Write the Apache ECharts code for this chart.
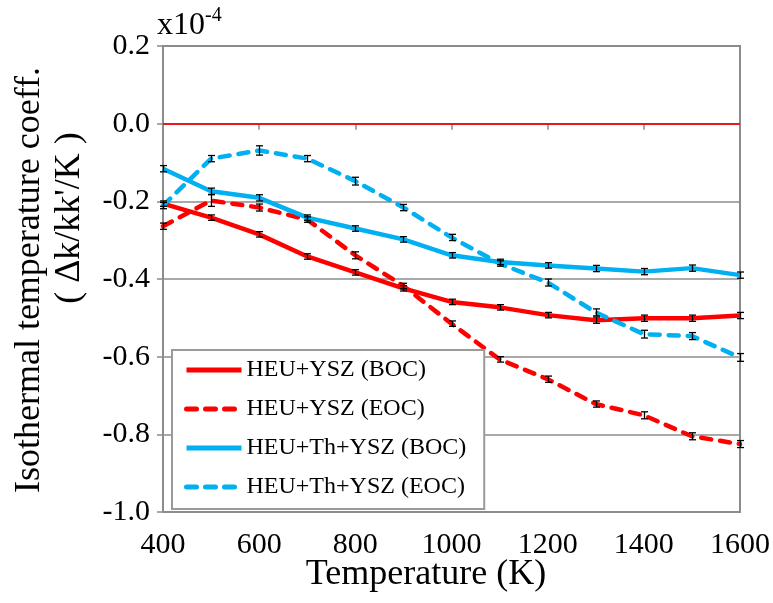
<!DOCTYPE html>
<html><head><meta charset="utf-8">
<script src="https://cdn.jsdelivr.net/npm/echarts@6/dist/echarts.min.js"></script>
<style>html,body{margin:0;padding:0;background:#fff}#c{width:773px;height:603px}</style>
</head><body><div id="c"></div>
<script>
const temps = [400,500,600,700,800,900,1000,1100,1200,1300,1400,1500,1600];
const xTicks = [400,600,800,1000,1200,1400,1600];
const yTicks = [-1.0,-0.8,-0.6,-0.4,-0.2,0.0,0.2];
const seriesNames = ['HEU+YSZ (BOC)','HEU+YSZ (EOC)','HEU+Th+YSZ (BOC)','HEU+Th+YSZ (EOC)'];
const heuYszBoc = [-0.206,-0.242,-0.285,-0.342,-0.383,-0.424,-0.459,-0.473,-0.493,-0.506,-0.501,-0.501,-0.494];
const heuYszEoc = [-0.264,-0.198,-0.216,-0.247,-0.339,-0.418,-0.515,-0.607,-0.658,-0.722,-0.751,-0.805,-0.825];
const heuThBoc  = [-0.116,-0.174,-0.191,-0.242,-0.270,-0.298,-0.339,-0.356,-0.365,-0.373,-0.381,-0.372,-0.390];
const heuThEoc  = [-0.211,-0.090,-0.069,-0.090,-0.148,-0.216,-0.293,-0.360,-0.409,-0.486,-0.542,-0.547,-0.602];
const errYszBoc = [0.007,0.007,0.007,0.007,0.007,0.007,0.007,0.007,0.007,0.008,0.008,0.008,0.008];
const errYszEoc = [0.008,0.015,0.009,0.007,0.009,0.007,0.007,0.007,0.008,0.008,0.009,0.009,0.009];
const errThBoc  = [0.008,0.008,0.008,0.007,0.007,0.007,0.007,0.007,0.007,0.008,0.008,0.008,0.008];
const errThEoc  = [0.008,0.008,0.012,0.008,0.010,0.008,0.008,0.007,0.009,0.009,0.010,0.009,0.010];

const FONT = '"Liberation Serif","Times New Roman",serif';
const RED = '#FF0000', BLUE = '#00B0F0';

function lineSeries(name, vals, color, dashed){
  return {
    name: name, type: 'line', data: temps.map((t,i)=>[t, vals[i]]),
    symbol: 'none', smooth: false, z: 3,
    lineStyle: {color: color, width: 4.5, type: dashed ? [10,9] : 'solid', cap: dashed ? 'round' : 'butt', join: 'round'},
    itemStyle: {color: color}
  };
}
function errSeries(vals, errs){
  return {
    type: 'custom', z: 5, silent: true,
    data: temps.map((t,i)=>[t, vals[i]-errs[i], vals[i]+errs[i]]),
    renderItem: function(params, api){
      const lo = api.coord([api.value(0), api.value(1)]);
      const hi = api.coord([api.value(0), api.value(2)]);
      const x = Math.round(lo[0]) + 0.5, hw = 3.5;
      const st = {stroke: '#000', lineWidth: 1.3};
      return {type: 'group', children: [
        {type: 'line', shape: {x1: x, y1: lo[1], x2: x, y2: hi[1]}, style: st},
        {type: 'line', shape: {x1: x-hw, y1: lo[1], x2: x+hw, y2: lo[1]}, style: st},
        {type: 'line', shape: {x1: x-hw, y1: hi[1], x2: x+hw, y2: hi[1]}, style: st}
      ]};
    }
  };
}

const chart = echarts.init(document.getElementById('c'), null, {renderer: 'canvas'});
const s1 = lineSeries(seriesNames[0], heuYszBoc, RED, false);
s1.markLine = {silent: true, symbol: ['none','none'], label: {show: false},
  lineStyle: {color: '#E8191E', width: 2, type: 'solid'}, data: [{yAxis: 0}]};
chart.setOption({
  animation: false,
  backgroundColor: '#fff',
  textStyle: {fontFamily: FONT},
  grid: {left: 163, right: 33, top: 46, bottom: 91, show: true, borderColor: '#8c8c8c', borderWidth: 2, backgroundColor: 'transparent'},
  xAxis: {
    type: 'value', min: 400, max: 1600, interval: 200,
    axisLine: {lineStyle: {color: '#8c8c8c', width: 2}},
    axisTick: {show: true, inside: false, length: 6, lineStyle: {color: '#8c8c8c', width: 1.5}},
    splitLine: {show: false},
    axisLabel: {color: '#000', fontSize: 30, fontFamily: FONT, margin: 18,
      formatter: v => xTicks.includes(v) ? String(v) : ''}
  },
  yAxis: {
    type: 'value', min: -1.0, max: 0.2, interval: 0.2,
    axisLine: {show: true, lineStyle: {color: '#8c8c8c', width: 2}},
    axisTick: {show: true, length: 6, lineStyle: {color: '#8c8c8c', width: 1.5}},
    splitLine: {show: true, lineStyle: {color: '#8c8c8c', width: 1.5}},
    axisLabel: {color: '#000', fontSize: 30, fontFamily: FONT, margin: 13,
      formatter: v => { const m = yTicks.find(t => Math.abs(t - v) < 1e-9); return m === undefined ? '' : m.toFixed(1); }}
  },
  legend: {
    orient: 'vertical', left: 172, top: 350,
    backgroundColor: '#fff', borderColor: '#9a9a9a', borderWidth: 2,
    padding: [8, 18, 10, 12], itemGap: 15, itemWidth: 55, itemHeight: 14,
    itemStyle: {opacity: 0, borderWidth: 0},
    lineStyle: {width: 5},
    textStyle: {color: '#000', fontSize: 24, fontFamily: FONT},
    data: seriesNames.map(n => ({name: n}))
  },
  graphic: [
    {type: 'text', left: 157, top: 6, style: {
      text: '{a|x10}{b|-4}', rich: {
        a: {fontSize: 32, fontFamily: FONT, fill: '#000', verticalAlign: 'bottom'},
        b: {fontSize: 20, fontFamily: FONT, fill: '#000', verticalAlign: 'top', padding: [0,0,16,0]}
      }}},
    {type: 'text', x: 30, y: 280, rotation: Math.PI/2, style: {
      text: 'Isothermal temperature coeff.', fontSize: 36, fontFamily: FONT, fill: '#000',
      textAlign: 'center', textVerticalAlign: 'middle'}},
    {type: 'text', x: 70, y: 218, rotation: Math.PI/2, style: {
      text: "( Δk/kk'/K )", fontSize: 36, fontFamily: FONT, fill: '#000',
      textAlign: 'center', textVerticalAlign: 'middle'}},
    {type: 'text', x: 426, y: 575, style: {
      text: 'Temperature (K)', fontSize: 36, fontFamily: FONT, fill: '#000',
      textAlign: 'center', textVerticalAlign: 'middle'}}
  ],
  series: [
    s1,
    lineSeries(seriesNames[1], heuYszEoc, RED, true),
    lineSeries(seriesNames[2], heuThBoc, BLUE, false),
    lineSeries(seriesNames[3], heuThEoc, BLUE, true),
    errSeries(heuYszBoc, errYszBoc),
    errSeries(heuYszEoc, errYszEoc),
    errSeries(heuThBoc, errThBoc),
    errSeries(heuThEoc, errThEoc)
  ]
});
</script></body></html>
